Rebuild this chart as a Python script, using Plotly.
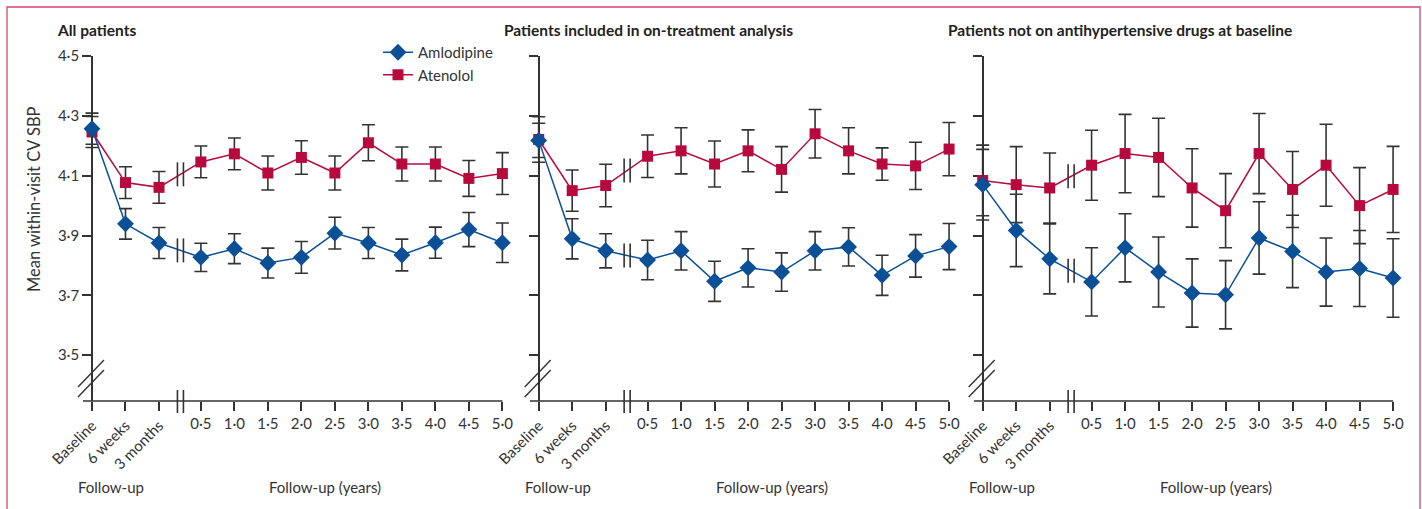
import numpy as np
import plotly.graph_objects as go

# ---------------- data ----------------
early_labels = ["Baseline", "6 weeks", "3 months"]
follow_years = [0.5, 1.0, 1.5, 2.0, 2.5, 3.0, 3.5, 4.0, 4.5, 5.0]
year_labels = ["0·5", "1·0", "1·5", "2·0", "2·5", "3·0", "3·5", "4·0", "4·5", "5·0"]

panel_titles = ["All patients",
                "Patients included in on-treatment analysis",
                "Patients not on antihypertensive drugs at baseline"]

# All patients
all_amlo = [4.257, 3.939, 3.875, 3.827, 3.856, 3.808, 3.827, 3.908, 3.875, 3.835, 3.876, 3.920, 3.876]
all_amlo_err = [0.052, 0.051, 0.052, 0.047, 0.050, 0.050, 0.053, 0.053, 0.052, 0.053, 0.052, 0.057, 0.066]
all_aten = [4.246, 4.077, 4.061, 4.146, 4.173, 4.109, 4.161, 4.109, 4.210, 4.139, 4.139, 4.091, 4.107]
all_aten_err = [0.052, 0.053, 0.053, 0.053, 0.053, 0.057, 0.056, 0.057, 0.060, 0.057, 0.057, 0.060, 0.070]

# On-treatment analysis
ont_amlo = [4.218, 3.889, 3.849, 3.818, 3.849, 3.747, 3.792, 3.778, 3.849, 3.862, 3.767, 3.832, 3.863]
ont_amlo_err = [0.057, 0.067, 0.057, 0.066, 0.064, 0.067, 0.064, 0.064, 0.064, 0.064, 0.067, 0.071, 0.077]
ont_aten = [4.221, 4.050, 4.067, 4.165, 4.183, 4.139, 4.183, 4.121, 4.240, 4.183, 4.139, 4.133, 4.189]
ont_aten_err = [0.076, 0.069, 0.071, 0.071, 0.077, 0.077, 0.070, 0.076, 0.081, 0.077, 0.054, 0.079, 0.089]

# Not on antihypertensive drugs at baseline
naive_amlo = [4.070, 3.917, 3.822, 3.745, 3.859, 3.778, 3.708, 3.702, 3.892, 3.847, 3.778, 3.790, 3.758]
naive_amlo_err = [0.118, 0.121, 0.117, 0.114, 0.114, 0.117, 0.114, 0.114, 0.121, 0.121, 0.114, 0.127, 0.131]
naive_aten = [4.084, 4.070, 4.059, 4.135, 4.174, 4.161, 4.059, 3.983, 4.174, 4.054, 4.135, 4.000, 4.054]
naive_aten_err = [0.118, 0.127, 0.117, 0.117, 0.131, 0.131, 0.131, 0.124, 0.134, 0.127, 0.137, 0.127, 0.144]

ytick_vals = [3.5, 3.7, 3.9, 4.1, 4.3, 4.5]
ytick_text = ["3·5", "3·7", "3·9", "4·1", "4·3", "4·5"]

# ---------------- scale on the broken time axis ----------------
GAP = 1.25          # distance from "3 months" to "0·5" in axis units
BREAK_AT = 2.64     # where the x-axis break is drawn
x_pos = list(range(len(early_labels))) + [len(early_labels) - 1 + GAP + (y - follow_years[0]) * 2
                                          for y in follow_years]

# ---------------- layout geometry ----------------
W, H = 1422, 509
FONT = "Lato, 'Open Sans', sans-serif"
TXT = "#333333"
BLUE = "#0b4f96"
RED = "#b7093d"

AXIS_END = x_pos[-1]
X_RANGE = [-0.27, AXIS_END + 0.35]
Y_RANGE = [3.347, 4.5]
UNIT_PX = 33.5
baseline_px = [92.0, 538.7, 982.7]
y_top_px, y_bot_px = 56.0, 401.0


def px_x(p):
    return p / W


def px_y(p):
    return 1 - p / H


fig = go.Figure()

panels = [
    (all_amlo, all_amlo_err, all_aten, all_aten_err),
    (ont_amlo, ont_amlo_err, ont_aten, ont_aten_err),
    (naive_amlo, naive_amlo_err, naive_aten, naive_aten_err),
]

annotations = []
shapes = []
y_dom = [px_y(y_bot_px), px_y(y_top_px)]

for i, (amlo, amlo_e, aten, aten_e) in enumerate(panels):
    n = i + 1
    xs = "" if n == 1 else str(n)
    xa = "x" + xs
    ya = "y" + xs
    d0 = baseline_px[i] + X_RANGE[0] * UNIT_PX
    d1 = baseline_px[i] + X_RANGE[1] * UNIT_PX
    dom = [px_x(d0), px_x(d1)]
    ypos = dom[0] + (0 - X_RANGE[0]) / (X_RANGE[1] - X_RANGE[0]) * (dom[1] - dom[0])

    fig.add_trace(go.Scatter(
        x=x_pos, y=aten, name="Atenolol", mode="lines+markers",
        line=dict(color=RED, width=1.5),
        marker=dict(symbol="square", size=11, color=RED),
        error_y=dict(type="data", array=aten_e, visible=True, color=TXT, thickness=1.6, width=6.5),
        xaxis=xa, yaxis=ya, showlegend=(n == 1), legendrank=2, cliponaxis=False,
        hoverinfo="skip"))
    fig.add_trace(go.Scatter(
        x=x_pos, y=amlo, name="Amlodipine", mode="lines+markers",
        line=dict(color=BLUE, width=1.5),
        marker=dict(symbol="diamond", size=13, color=BLUE),
        error_y=dict(type="data", array=amlo_e, visible=True, color=TXT, thickness=1.6, width=6.5),
        xaxis=xa, yaxis=ya, showlegend=(n == 1), legendrank=1, cliponaxis=False,
        hoverinfo="skip"))

    fig.update_layout(**{
        "xaxis" + xs: dict(
            domain=dom, range=X_RANGE, anchor=ya, showgrid=False, zeroline=False,
            showline=False, automargin=False,
            ticks="outside", ticklen=9, tickwidth=1.6, tickcolor=TXT,
            tickvals=x_pos, ticktext=[""] * len(early_labels) + year_labels,
            tickangle=0, tickfont=dict(family=FONT, size=15, color=TXT)),
        "yaxis" + xs: dict(
            domain=y_dom, range=Y_RANGE, anchor="free", position=ypos, automargin=False,
            showgrid=False, zeroline=False, showline=True, linecolor=TXT, linewidth=1.6,
            ticks="outside", ticklen=9, tickwidth=1.6, tickcolor=TXT,
            tickvals=ytick_vals, ticktext=ytick_text, showticklabels=(n == 1),
            tickfont=dict(family=FONT, size=15, color=TXT), layer="below traces"),
        "xaxis" + str(n + 3): dict(
            overlaying=xa, anchor=ya, range=X_RANGE, showgrid=False, zeroline=False,
            showline=False, automargin=False, ticks="outside", ticklen=9,
            tickcolor="rgba(0,0,0,0)",
            tickvals=x_pos[:len(early_labels)], ticktext=early_labels, tickangle=-45,
            tickfont=dict(family=FONT, size=15, color=TXT)),
    })
    # invisible trace so the overlay axis is drawn
    fig.add_trace(go.Scatter(x=[None], y=[None], xaxis="x" + str(n + 3), yaxis=ya,
                             showlegend=False, hoverinfo="skip"))

    # x-axis line ending at the last tick
    shapes.append(dict(type="line", xref=xa, yref="paper", x0=X_RANGE[0], x1=AXIS_END,
                       y0=y_dom[0], y1=y_dom[0], line=dict(color=TXT, width=1.6)))

    # panel title
    annotations.append(dict(text="<b>" + panel_titles[i] + "</b>", xref="paper", yref="paper",
                            x=px_x(baseline_px[i] - 37), y=px_y(30), xanchor="left", yanchor="middle",
                            showarrow=False, font=dict(family=FONT, size=15.5, color="#222222")))
    # axis captions
    annotations.append(dict(text="Follow-up", xref=xa, yref="paper", x=0.57, y=px_y(487),
                            xanchor="center", yanchor="middle", showarrow=False,
                            font=dict(family=FONT, size=15, color=TXT)))
    annotations.append(dict(text="Follow-up (years)", xref=xa, yref="paper", x=6.95, y=px_y(487),
                            xanchor="center", yanchor="middle", showarrow=False,
                            font=dict(family=FONT, size=15, color=TXT)))

    # x-axis break "||"
    for dx in (-3, 3):
        shapes.append(dict(type="line", xref=xa, yref="paper", xsizemode="pixel", ysizemode="pixel",
                           xanchor=BREAK_AT, yanchor=y_dom[0], x0=dx, x1=dx, y0=-12, y1=11,
                           line=dict(color=TXT, width=1.6)))
    # y-axis break "//"
    for dy in (0, 10):
        shapes.append(dict(type="line", xref="paper", yref="paper", xsizemode="pixel",
                           ysizemode="pixel", xanchor=ypos, yanchor=y_dom[0],
                           x0=-14, x1=12, y0=4 + dy, y1=31 + dy,
                           line=dict(color=TXT, width=1.4)))
    # break marks on the data lines
    for series in (amlo, aten):
        yb = float(np.interp(BREAK_AT, x_pos, series))
        for dx in (-3, 3):
            shapes.append(dict(type="line", xref=xa, yref=ya, xsizemode="pixel", ysizemode="pixel",
                               xanchor=BREAK_AT, yanchor=yb, x0=dx, x1=dx, y0=-12, y1=12,
                               line=dict(color=TXT, width=1.6)))

# y-axis title
annotations.append(dict(text="Mean within-visit CV SBP", xref="paper", yref="paper",
                        x=px_x(34), y=px_y(199), textangle=-90, showarrow=False,
                        xanchor="center", yanchor="middle",
                        font=dict(family=FONT, size=16.5, color=TXT)))

# pink frame
shapes.append(dict(type="rect", xref="paper", yref="paper",
                   x0=px_x(7), x1=px_x(1420), y0=px_y(540), y1=px_y(7),
                   line=dict(color="#d3476f", width=1.3), fillcolor="rgba(0,0,0,0)"))

fig.update_layout(
    width=W, height=H, autosize=False,
    margin=dict(l=0, r=0, t=0, b=0, pad=0, autoexpand=False),
    paper_bgcolor="white", plot_bgcolor="white",
    font=dict(family=FONT, size=15, color=TXT),
    annotations=annotations, shapes=shapes,
    legend=dict(x=px_x(378), y=px_y(36), xanchor="left", yanchor="top",
                bgcolor="rgba(0,0,0,0)", font=dict(family=FONT, size=15, color=TXT),
                tracegroupgap=0, itemwidth=30),
    showlegend=True,
    hovermode=False,
)

fig.write_html("out.html",
               config={"displayModeBar": False, "staticPlot": False},
               post_script="document.body.style.margin='0px';"
                           "document.body.style.overflow='hidden';")
